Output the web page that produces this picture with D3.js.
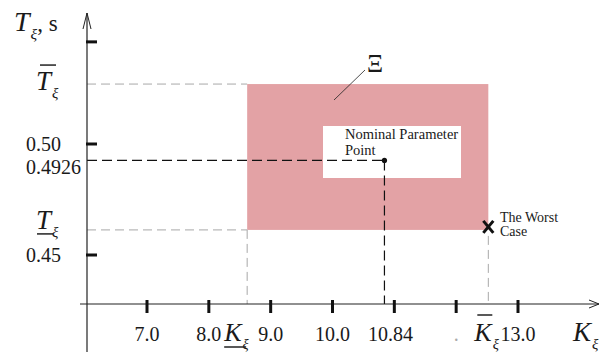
<!doctype html>
<html>
<head>
<meta charset="utf-8">
<style>
  body { margin: 0; background: #fff; }
  svg text { font-family: "Liberation Serif", Tinos, "Times New Roman", Times, "Noto Serif", serif; fill: #1a1a1a; }
  .it { font-style: italic; }
</style>
<script src="https://d3js.org/d3.v7.min.js"></script>
</head>
<body>
<div id="chart"></div>
<script>
// axis ticks and their labels
var kTicks = [7, 8, 9, 10, 11, 12, 13];
var kTickLabels = ["7.0", "8.0", "9.0", "10.0", "", ".", "13.0"];
var tTicks = [0.45, 0.50, 0.546];
var tTickLabels = ["0.45", "0.50", ""];
// uncertainty box Xi : [lower, upper]
var kBounds = [8.62, 12.52];
var tBounds = [0.4613, 0.527];
// nominal parameter point [K, T]
var nominal = [10.84, 0.4926];
var nominalLabels = ["10.84", "0.4926"];

var width = 600, height = 352;
var x0 = 87, y0 = 304;   // where the axes cross
var x = d3.scaleLinear().domain([7, 13]).range([147, 518]);
var y = d3.scaleLinear().domain([0.45, 0.50]).range([255, 144]);

var svg = d3.select("#chart").append("svg")
  .attr("width", width).attr("height", height);

// Xi region
svg.append("rect")
  .attr("x", x(kBounds[0])).attr("y", y(tBounds[1]))
  .attr("width", x(kBounds[1]) - x(kBounds[0]))
  .attr("height", y(tBounds[0]) - y(tBounds[1]))
  .attr("fill", "#e3a2a5");

// white note box
svg.append("rect")
  .attr("x", 323).attr("y", 126).attr("width", 138).attr("height", 52)
  .attr("fill", "#fff");
svg.append("text").attr("x", 345).attr("y", 139).style("font-size", "14.5px").text("Nominal Parameter");
svg.append("text").attr("x", 345).attr("y", 155).style("font-size", "14.5px").text("Point");

// grey guide lines for the bounds
var grey = svg.append("g").attr("stroke", "#a8a8a8").attr("stroke-width", 1)
  .attr("stroke-dasharray", "9,5").attr("fill", "none");
grey.append("line").attr("x1", x0).attr("x2", x(kBounds[0])).attr("y1", y(tBounds[1])).attr("y2", y(tBounds[1]));
grey.append("line").attr("x1", x0).attr("x2", x(kBounds[0])).attr("y1", y(tBounds[0])).attr("y2", y(tBounds[0]));
grey.append("line").attr("x1", x(kBounds[0])).attr("x2", x(kBounds[0])).attr("y1", y(tBounds[0])).attr("y2", y0);
grey.append("line").attr("x1", x(kBounds[1])).attr("x2", x(kBounds[1])).attr("y1", y(tBounds[0]) + 6).attr("y2", y0);

// nominal point with dashed projections
var nx = x(nominal[0]), ny = y(nominal[1]);
var blk = svg.append("g").attr("stroke", "#111").attr("stroke-width", 1.2)
  .attr("stroke-dasharray", "10,5");
blk.append("line").attr("x1", x0).attr("x2", nx).attr("y1", ny).attr("y2", ny);
blk.append("line").attr("x1", nx).attr("x2", nx).attr("y1", ny).attr("y2", y0);
svg.append("circle").attr("cx", nx).attr("cy", ny).attr("r", 2.6).attr("fill", "#111");

// axes
svg.append("line").attr("x1", x0).attr("x2", x0).attr("y1", height).attr("y2", 13)
  .attr("stroke", "#222").attr("stroke-width", 1.2);
svg.append("line").attr("x1", 80).attr("x2", 599).attr("y1", y0).attr("y2", y0)
  .attr("stroke", "#222").attr("stroke-width", 1.2);
svg.append("path").attr("d", "M" + (x0 - 4) + ",29 L" + x0 + ",13 L" + (x0 + 4) + ",29")
  .attr("fill", "none").attr("stroke", "#222").attr("stroke-width", 1);
svg.append("path").attr("d", "M589," + (y0 - 4) + " L599," + y0 + " L589," + (y0 + 4))
  .attr("fill", "none").attr("stroke", "#222").attr("stroke-width", 1);

// ticks
svg.selectAll(".kt").data(kTicks).enter().append("line")
  .attr("x1", d => x(d)).attr("x2", d => x(d)).attr("y1", y0 - 4).attr("y2", y0 + 9)
  .attr("stroke", "#111").attr("stroke-width", 3);
svg.selectAll(".tt").data(tTicks).enter().append("line")
  .attr("y1", d => y(d)).attr("y2", d => y(d)).attr("x1", x0 - 1).attr("x2", x0 + 10)
  .attr("stroke", "#111").attr("stroke-width", 3);

// tick labels
svg.selectAll(".kl").data(kTicks).enter().append("text")
  .attr("x", d => x(d)).attr("y", 341).attr("text-anchor", "middle")
  .style("font-size", "20px")
  .style("fill", (d, i) => kTickLabels[i] == "." ? "#aaa" : null)
  .text((d, i) => kTickLabels[i]);
svg.selectAll(".tl").data(tTicks).enter().append("text")
  .attr("x", 26).attr("y", d => y(d) + 7)
  .style("font-size", "20px")
  .text((d, i) => tTickLabels[i]);
svg.append("text").attr("x", nx + 6).attr("y", 341).attr("text-anchor", "middle")
  .style("font-size", "20px").text(nominalLabels[0]);
svg.append("text").attr("x", 26).attr("y", ny + 14)
  .style("font-size", "20px").text(nominalLabels[1]);

// symbol with subscript xi
function symbol(px, py, letter, size) {
  var t = svg.append("text").attr("x", px).attr("y", py);
  t.append("tspan").attr("class", "it").style("font-size", size + "px").text(letter);
  t.append("tspan").attr("class", "it").attr("dy", 8).attr("dx", 1)
    .style("font-size", (size * 0.55) + "px").text("ξ");
  return t;
}
function bar(x1, x2, yy) {
  svg.append("line").attr("x1", x1).attr("x2", x2).attr("y1", yy).attr("y2", yy)
    .attr("stroke", "#222").attr("stroke-width", 1.5);
}

// T bounds
symbol(36, y(tBounds[1]) + 6, "T", 27);
bar(40, 56, y(tBounds[1]) - 19);
symbol(36, y(tBounds[0]) - 1, "T", 27);
bar(37, 53, y(tBounds[0]) + 4);

// K bounds
symbol(x(kBounds[0]) - 23, 341, "K", 26);
bar(x(kBounds[0]) - 23, x(kBounds[0]) - 1, 347);
symbol(x(kBounds[1]) - 14, 341, "K", 26);
bar(x(kBounds[1]) - 11, x(kBounds[1]) + 4, 315);

// axis titles
var tt = symbol(14, 31, "T", 28);
tt.append("tspan").attr("dy", -8).style("font-size", "23px").text(", s");
symbol(573, 341, "K", 27);

// Xi label with leader
svg.append("text").attr("x", 367).attr("y", 72).style("font-size", "25px").text("Ξ");
svg.append("line").attr("x1", 365).attr("y1", 70).attr("x2", 334).attr("y2", 100)
  .attr("stroke", "#222").attr("stroke-width", 0.8);

// worst case marker
var wx = x(kBounds[1]), wy = y(tBounds[0]) - 3;
svg.append("path")
  .attr("d", "M" + (wx - 5) + "," + (wy - 6) + "L" + (wx + 5) + "," + (wy + 6) +
             "M" + (wx + 5) + "," + (wy - 6) + "L" + (wx - 5) + "," + (wy + 6))
  .attr("stroke", "#111").attr("stroke-width", 3);
svg.append("text").attr("x", 500).attr("y", 222).style("font-size", "14px").text("The Worst");
svg.append("text").attr("x", 500).attr("y", 236).style("font-size", "14px").text("Case");
</script>
</body>
</html>
